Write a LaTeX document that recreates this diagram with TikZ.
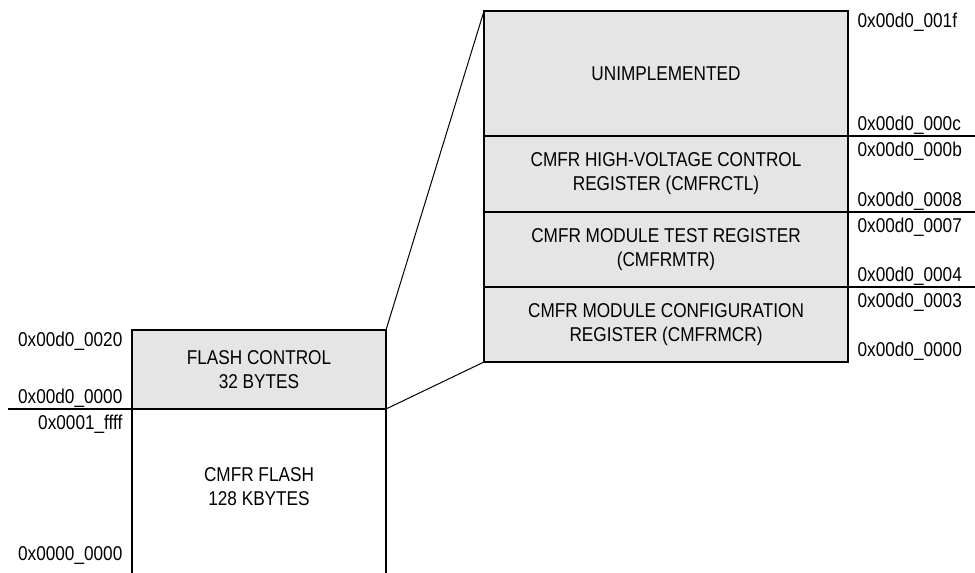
\documentclass[tikz,border=0pt]{standalone}
\usepackage{fontspec}
\setmainfont{Liberation Sans}[FakeStretch=0.86]
\usetikzlibrary{positioning}
\definecolor{regfill}{gray}{0.9}
\tikzset{
  regbox/.style={draw, line width=1.5pt, fill=regfill, inner sep=0pt, outer sep=0pt,
    minimum width=273pt, align=center, font=\fontsize{15}{18}\selectfont},
  flashbox/.style={regbox, minimum width=190.5pt},
  addr/.style={inner sep=1pt, font=\fontsize{15}{18}\selectfont},
  wall/.style={line width=1.5pt},
  zoomline/.style={line width=0.75pt}
}
\begin{document}
\begin{tikzpicture}[x=0.75pt, y=-0.75pt]

    \useasboundingbox (0,0) rectangle (975,573);

    % Define nodes
    \node[regbox, minimum height=93.75pt]           (unimpl) at (666,73.5) {UNIMPLEMENTED};
    \node[regbox, minimum height=57pt, below=0pt of unimpl]   (hvctl) {CMFR HIGH-VOLTAGE CONTROL\\REGISTER (CMFRCTL)};
    \node[regbox, minimum height=56.25pt, below=0pt of hvctl] (mtr) {CMFR MODULE TEST REGISTER\\(CMFRMTR)};
    \node[regbox, minimum height=56.25pt, below=0pt of mtr]   (mcr) {CMFR MODULE CONFIGURATION\\REGISTER (CMFRMCR)};

    \node[flashbox, minimum height=59.25pt]         (flashctl) at (259,369.5) {FLASH CONTROL\\32 BYTES};
    \node[align=center, font=\fontsize{15}{18}\selectfont] (flash) at (259,487) {CMFR FLASH\\128 KBYTES};

    \coordinate (redge) at (975,0);
    \coordinate (ledge) at (8,0);
    \coordinate (fbot) at (0,573);
    \coordinate (fzero) at (0,566);

    % Addresses
    \node[addr, anchor=north west, xshift=6pt]  (a1f) at (unimpl.north east) {0x00d0\_001f};
    \node[addr, anchor=south west, xshift=6pt]  (a0c) at (unimpl.south east) {0x00d0\_000c};
    \node[addr, anchor=north west, xshift=6pt, yshift=-3pt] (a0b) at (hvctl.north east) {0x00d0\_000b};
    \node[addr, anchor=south west, xshift=6pt]  (a08) at (hvctl.south east) {0x00d0\_0008};
    \node[addr, anchor=north west, xshift=6pt, yshift=-3pt] (a07) at (mtr.north east) {0x00d0\_0007};
    \node[addr, anchor=south west, xshift=6pt]  (a04) at (mtr.south east) {0x00d0\_0004};
    \node[addr, anchor=north west, xshift=6pt, yshift=-3pt] (a03) at (mcr.north east) {0x00d0\_0003};
    \node[addr, anchor=south west, xshift=6pt]  (a00) at (mcr.south east) {0x00d0\_0000};

    \node[addr, anchor=north east, xshift=-6pt] (c20) at (flashctl.north west) {0x00d0\_0020};
    \node[addr, anchor=south east, xshift=-6pt] (c00) at (flashctl.south west) {0x00d0\_0000};
    \node[addr, anchor=north east, xshift=-6pt, yshift=-3.5pt] (fff) at (flashctl.south west) {0x0001\_ffff};
    \node[addr, anchor=south east, xshift=-6pt] (f00) at (flashctl.west |- fzero) {0x0000\_0000};

    % Connect the nodes
    \draw[wall] (unimpl.south east) -- (unimpl.south east -| redge);
    \draw[wall] (hvctl.south east) -- (hvctl.south east -| redge);
    \draw[wall] (mtr.south east) -- (mtr.south east -| redge);

    \draw[wall] (flashctl.south west -| ledge) -- (flashctl.south east);
    \draw[wall] (flashctl.south west) -- (flashctl.south west |- fbot);
    \draw[wall] (flashctl.south east) -- (flashctl.south east |- fbot);

    \draw[zoomline] (flashctl.north east) -- (unimpl.north west);
    \draw[zoomline] (flashctl.south east) -- (mcr.south west);

\end{tikzpicture}
\end{document}
